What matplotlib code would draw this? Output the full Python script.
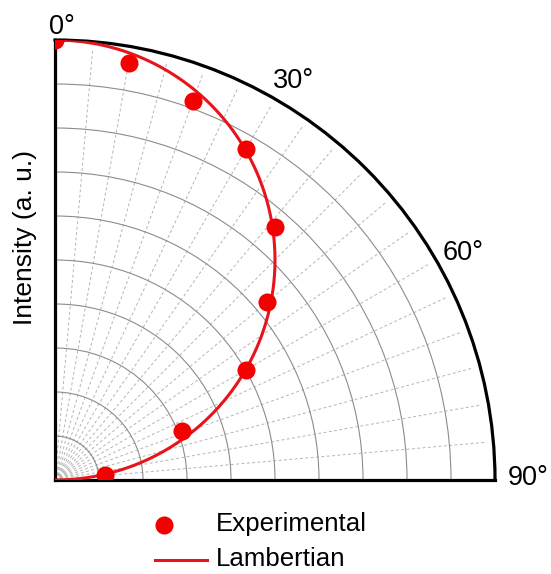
import numpy as np
import matplotlib
matplotlib.use("Agg")
import matplotlib.pyplot as plt
from matplotlib.lines import Line2D

plt.rcParams['font.family'] = ['Liberation Sans', 'DejaVu Sans']

# measured emission profile (angle from normal, normalised intensity)
exp_angle = [0, 10, 20, 30, 41, 50, 60, 69, 84]
exp_intensity = [1.0, 0.962, 0.916, 0.868, 0.763, 0.629, 0.502, 0.309, 0.114]

tick_angles = [0, 30, 60, 90]
tick_labels = ['0°', '30°', '60°', '90°']
ring_radii = [0.1, 0.2, 0.3, 0.4, 0.5, 0.6, 0.7, 0.8, 0.9]

W, H = 551, 574
fig = plt.figure(figsize=(W / 100, H / 100), dpi=100)
ax = fig.add_axes([53 / W, (H - 480) / H, 444 / W, 440 / H], projection='polar')
ax.set_theta_zero_location('N')
ax.set_theta_direction(-1)
ax.set_thetamin(0)
ax.set_thetamax(90)
ax.set_ylim(0, 1)

# rings solid, spokes drawn by hand as short dashed lines
ax.set_rgrids(ring_radii, labels=[])
ax.yaxis.grid(True, color='#8c8c8c', lw=0.8, ls='-')
ax.xaxis.grid(False)
ax.set_xticks(np.radians(tick_angles))
ax.set_xticklabels([])
ax.tick_params(axis='both', length=0)
for a in range(5, 90, 5):
    ax.plot([np.radians(a)] * 2, [0, 0.98], color='#b5b5b5', lw=0.7,
            ls=(0, (3, 2.5)), zorder=1)

for s in ['polar', 'start', 'end']:
    ax.spines[s].set_linewidth(2.3)
    ax.spines[s].set_color('black')

# Lambertian reference curve
th = np.radians(np.linspace(0, 90, 300))
ax.plot(th, np.cos(th), color='#e8141c', lw=2.2, zorder=3)
ax.plot(np.radians(exp_angle), exp_intensity, 'o', color='#f50000',
        ms=13, mec='none', zorder=4)

# angle labels outside the arc
label_pos = [(0.9, 1.03), (30.9, 1.056), (60.9, 1.062), (89.7, 1.075)]
for (a, r), t in zip(label_pos, tick_labels):
    ax.text(np.radians(a), r, t, fontsize=19.5, ha='center', va='center')

fig.text(25 / W, 1 - 238 / H, 'Intensity (a. u.)', rotation=90,
         fontsize=19, ha='center', va='center')

# legend
fig.add_artist(Line2D([164 / W], [1 - 525 / H], marker='o', color='#f50000',
                      ms=13, mec='none', transform=fig.transFigure))
fig.add_artist(Line2D([155 / W, 207 / W], [1 - 560 / H] * 2, color='#e8141c',
                      lw=2.2, transform=fig.transFigure))
fig.text(216 / W, 1 - 524 / H, 'Experimental', fontsize=18.6, va='center')
fig.text(216 / W, 1 - 559 / H, 'Lambertian', fontsize=18.6, va='center')

fig.savefig('out.png', dpi=100)
